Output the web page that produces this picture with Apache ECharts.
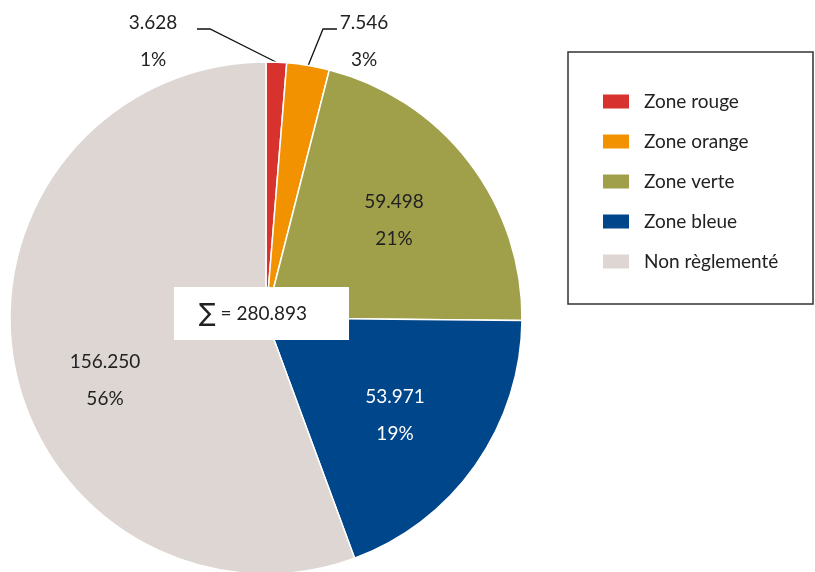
<!DOCTYPE html>
<html>
<head>
<meta charset="utf-8">
<script src="https://cdn.jsdelivr.net/npm/echarts@6/dist/echarts.min.js"></script>
<style>
  html, body { margin: 0; padding: 0; background: #fff; }
  #main { width: 815px; height: 572px; }
</style>
</head>
<body>
<div id="main"></div>
<script>
// données
var zones = ['Zone rouge', 'Zone orange', 'Zone verte', 'Zone bleue', 'Non règlementé'];
var valeurs = [3628, 7546, 59498, 53971, 156250];
var couleurs = ['#d7322d', '#f39200', '#a09f4a', '#00468b', '#ddd6d3'];

// mise en page des étiquettes
var labelAt = [[153, 41], [364, 41], [394, 220], [395, 415], [105, 380]];
var coudes = { 0: [[210, 29], [197, 29]], 1: [[323, 29], [337, 29]] };

var police = 'Lato, "Open Sans", sans-serif';

function fmt(v) {
  return String(v).replace(/\B(?=(\d{3})+(?!\d))/g, '.');
}

var total = valeurs.reduce(function (a, b) { return a + b; }, 0);

var myChart = echarts.init(document.getElementById('main'));

var option = {
  animation: false,
  textStyle: { fontFamily: police },
  legend: {
    orient: 'vertical',
    left: 601,
    top: 92,
    icon: 'rect',
    itemWidth: 28,
    itemHeight: 16,
    itemGap: 21,
    padding: 0,
    data: zones,
    textStyle: { fontFamily: police, fontSize: 19, color: '#222', padding: [0, 0, 0, 9] }
  },
  graphic: [
    {
      type: 'rect',
      shape: { x: 568, y: 52, width: 245, height: 252 },
      style: { fill: 'none', stroke: '#333', lineWidth: 1.5 },
      z: 1
    },
    {
      type: 'rect',
      shape: { x: 174, y: 287, width: 175, height: 53 },
      style: { fill: '#fff' },
      z: 100
    },
    {
      type: 'text',
      x: 253,
      y: 314,
      style: {
        text: '{s|∑} = ' + fmt(total),
        font: '19px ' + police,
        fill: '#222',
        textAlign: 'center',
        textVerticalAlign: 'middle',
        rich: {
          s: { fontSize: 25, fontFamily: 'DejaVu Sans', fill: '#222' }
        }
      },
      z: 101
    }
  ],
  series: [{
    type: 'pie',
    center: [266, 318],
    radius: 256,
    startAngle: 90,
    clockwise: true,
    itemStyle: { borderColor: '#fff', borderWidth: 1.5 },
    label: {
      show: true,
      position: 'inside',
      fontFamily: police,
      fontSize: 19,
      color: '#222',
      lineHeight: 37,
      align: 'center',
      formatter: function (p) { return fmt(p.value) + '\n' + Math.round(p.percent) + '%'; }
    },
    percentPrecision: 0,
    labelLine: { show: false },
    labelLayout: function (p) {
      var pos = labelAt[p.dataIndex];
      var res = { x: pos[0], y: pos[1], align: 'center', verticalAlign: 'middle' };
      if (coudes[p.dataIndex] && p.labelLinePoints) {
        res.labelLinePoints = [p.labelLinePoints[0]].concat(coudes[p.dataIndex]);
      }
      return res;
    },
    data: zones.map(function (n, i) {
      var d = { name: n, value: valeurs[i], itemStyle: { color: couleurs[i] } };
      if (i === 3) d.label = { color: '#fff' };
      if (i < 2) {
        d.label = { position: 'outside' };
        d.labelLine = { show: true, length: 20, length2: 10, lineStyle: { color: '#111', width: 1.3 } };
      }
      return d;
    })
  }]
};

myChart.setOption(option);
</script>
</body>
</html>
